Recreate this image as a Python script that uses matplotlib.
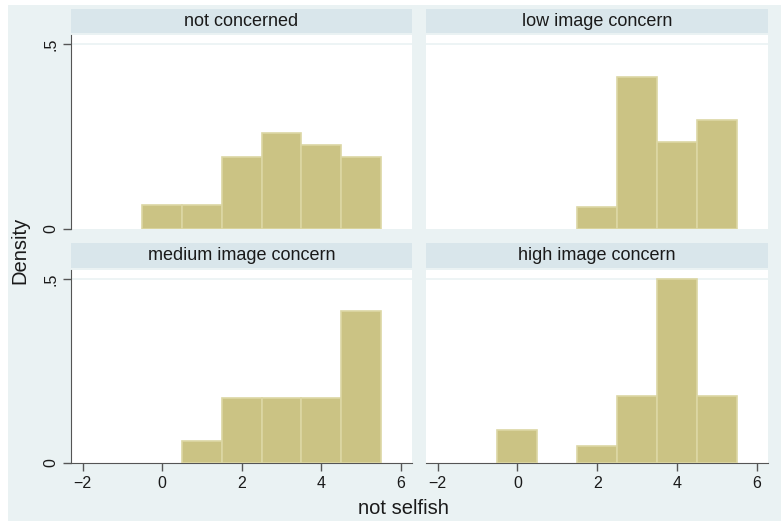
import numpy as np
import matplotlib
matplotlib.use("Agg")
import matplotlib.pyplot as plt
from matplotlib.patches import Rectangle

plt.rcParams['font.family'] = ['Liberation Sans', 'DejaVu Sans']

# values of "not selfish" and counts per group (bin width 1)
values = [0, 1, 2, 3, 4, 5]
groups = ['not concerned', 'low image concern', 'medium image concern', 'high image concern']
counts_not = [2, 2, 6, 8, 7, 6]
counts_low = [0, 0, 1, 7, 4, 5]
counts_med = [0, 1, 3, 3, 3, 7]
counts_high = [2, 0, 1, 4, 11, 4]
all_counts = [counts_not, counts_low, counts_med, counts_high]

xticks = [-2, 0, 2, 4, 6]
yticks = [0, 0.5]
ytick_labels = ['0', '.5']

bg = '#EAF2F3'
strip_col = '#D9E6EB'
bar_col = '#CBC384'
bar_edge = '#DCD7A4'
axis_col = '#555555'

W, H = 781, 521
fig = plt.figure(figsize=(W / 100, H / 100), dpi=100)
fig.patch.set_facecolor('white')
fig.patches.append(Rectangle((8 / W, 0), 1 - 8 / W, 1 - 5 / H,
                             transform=fig.transFigure, facecolor=bg,
                             edgecolor='none', zorder=-10))

def rect(x0, y0, x1, y1):
    # pixel box (top-left origin) to figure coords
    return [x0 / W, 1 - y1 / H, (x1 - x0) / W, (y1 - y0) / H]

cols = [(71, 412), (426, 768)]
rows = [((9, 33), (35, 229)), ((243, 268), (270, 463))]

for i, (name, counts) in enumerate(zip(groups, all_counts)):
    r, c = divmod(i, 2)
    x0, x1 = cols[c]
    (s0, s1), (p0, p1) = rows[r]

    sax = fig.add_axes(rect(x0, s0, x1, s1))
    sax.set_facecolor(strip_col)
    sax.set_xticks([])
    sax.set_yticks([])
    for sp in sax.spines.values():
        sp.set_visible(False)
    sax.text(0.5, 0.5, name, ha='center', va='center', fontsize=13,
             color='#1a1a1a', transform=sax.transAxes)

    ax = fig.add_axes(rect(x0, p0, x1, p1))
    ax.set_facecolor('white')
    n, b, patches = ax.hist(values, bins=np.arange(-0.5, 6.0, 1.0),
                            weights=counts, density=True, color=bar_col,
                            edgecolor=bar_edge, linewidth=1.2, zorder=3)
    for h, p in zip(n, patches):
        if h == 0:
            p.set_visible(False)
    ax.axhline(0.5, color=bg, linewidth=1.2, zorder=1)
    ax.set_xlim(-2.29, 6.28)
    ax.set_ylim(0, 0.524)

    for sp in ['top', 'right']:
        ax.spines[sp].set_visible(False)
    ax.spines['left'].set_visible(c == 0)
    ax.spines['bottom'].set_visible(r == 1)
    ax.spines['left'].set_color(axis_col)
    ax.spines['bottom'].set_color(axis_col)

    if c == 0:
        ax.set_yticks(yticks)
        ax.set_yticklabels(ytick_labels, rotation=90, va='center')
    else:
        ax.set_yticks([])
    if r == 1:
        ax.set_xticks(xticks)
        ax.set_xticklabels([str(t).replace('-', '\u2212') for t in xticks])
    else:
        ax.set_xticks([])
    ax.tick_params(length=6, width=1, color=axis_col, labelsize=11.5,
                   labelcolor='#1a1a1a', pad=3)

fig.text(20 / W, 1 - 250 / H, 'Density', rotation=90, ha='center',
         va='center', fontsize=14.5, color='#1a1a1a')
fig.text(403 / W, 1 - 508 / H, 'not selfish', ha='center', va='center',
         fontsize=14.5, color='#1a1a1a')

fig.savefig('out.png', dpi=100, facecolor=fig.get_facecolor())
